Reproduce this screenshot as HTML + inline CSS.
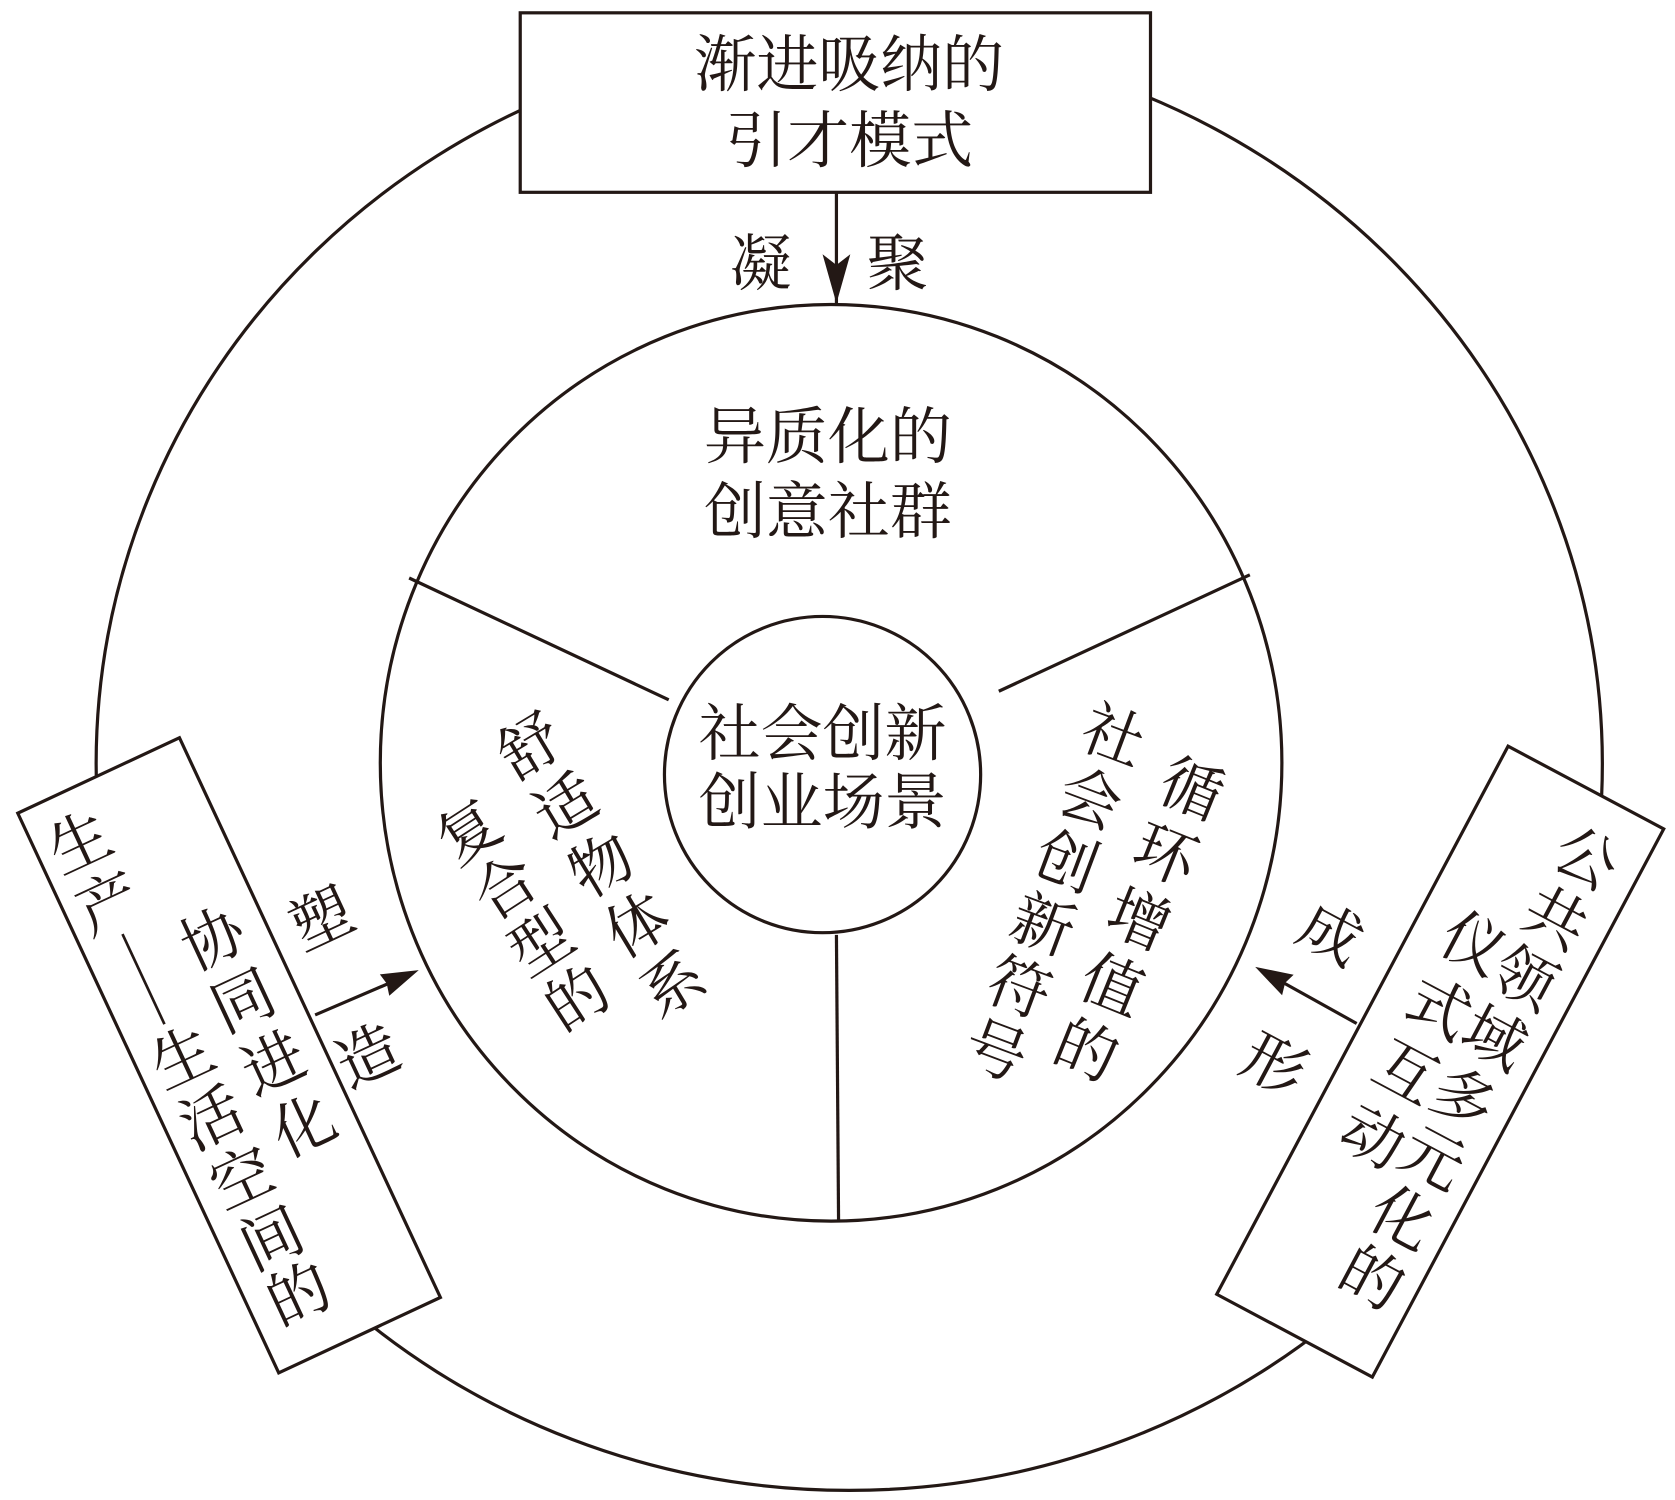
<!DOCTYPE html>
<html><head><meta charset="utf-8"><style>
html,body{margin:0;padding:0;background:#fff;}
svg{display:block;}
text{font-family:"Liberation Serif","Noto Serif CJK SC","Noto Sans CJK SC",serif;fill:#231815;font-size:58px;text-anchor:middle;dominant-baseline:central;}
</style></head><body>
<svg width="1675" height="1500" viewBox="0 0 1568 1404" preserveAspectRatio="none" xmlns="http://www.w3.org/2000/svg">
<g fill="none" stroke="#231815" stroke-width="3">
<ellipse cx="795" cy="715" rx="705" ry="680"/>
<ellipse cx="778" cy="714" rx="422" ry="429"/>
<circle cx="770" cy="725" r="148"/>
<line x1="383" y1="541" x2="626" y2="655"/>
<line x1="1170" y1="538" x2="935" y2="647"/>
<line x1="783" y1="875" x2="785" y2="1143"/>
</g>
<!-- top box -->
<rect x="487" y="12" width="590" height="168" fill="#fff" stroke="#231815" stroke-width="3"/>
<text x="795" y="62">渐进吸纳的</text>
<text x="795" y="133">引才模式</text>
<line x1="783" y1="180" x2="783" y2="284" stroke="#231815" stroke-width="3"/>
<path d="M770,238 L783,284 L796,238 L783,248 Z" fill="#231815"/>
<text x="712" y="248">凝</text>
<text x="840" y="248">聚</text>
<!-- inner texts -->
<text x="775" y="410">异质化的</text>
<text x="775" y="480">创意社群</text>
<text x="770" y="688">社会创新</text>
<text x="770" y="752">创业场景</text>
<g transform="translate(497,700) rotate(-31)">
<text x="0" y="0">舒</text><text x="0" y="65">适</text><text x="0" y="130">物</text><text x="0" y="195">体</text><text x="0" y="260">系</text>
</g>
<g transform="translate(440,780) rotate(-33)">
<text x="0" y="0">复</text><text x="0" y="62">合</text><text x="0" y="124">型</text><text x="0" y="186">的</text>
</g>
<g transform="translate(1115,740) rotate(22)">
<text x="0" y="0">循</text><text x="0" y="66">环</text><text x="0" y="132">增</text><text x="0" y="198">值</text><text x="0" y="264">的</text>
</g>
<g transform="translate(1042,690) rotate(20.5)">
<text x="0" y="0">社</text><text x="0" y="63">会</text><text x="0" y="126">创</text><text x="0" y="189">新</text><text x="0" y="252">符</text><text x="0" y="315">号</text>
</g>
<!-- left box -->
<g transform="translate(214,988) rotate(-25)">
<rect x="-83" y="-289" width="167" height="578" fill="#fff" stroke="#231815" stroke-width="3"/>
<text x="-42" y="-238">生</text><text x="-42" y="-175">产</text>
<line x1="-42" y1="-145" x2="-42" y2="-52" stroke="#231815" stroke-width="2.5"/>
<text x="-40" y="-15">生</text><text x="-39" y="48">活</text><text x="-37" y="111">空</text><text x="-36" y="174">间</text><text x="-35" y="232">的</text>
<text x="33" y="-104">协</text><text x="34" y="-39">同</text><text x="35" y="26">进</text><text x="36" y="91">化</text>
</g>
<line x1="295" y1="950" x2="365" y2="920" stroke="#231815" stroke-width="3"/>
<path d="M392,908 L355.6,912 L362,920.5 L364.4,932 Z" fill="#231815"/>
<text x="302" y="862" transform="rotate(-25 302 862)">塑</text>
<text x="345" y="990" transform="rotate(-25 345 990)">造</text>
<!-- right box -->
<g transform="translate(1348,993) rotate(28)">
<rect x="-82" y="-290" width="165" height="581" fill="#fff" stroke="#231815" stroke-width="3"/>
<text x="32" y="-230">公</text><text x="33" y="-167">共</text><text x="34" y="-104">领</text><text x="35" y="-41">域</text><text x="36" y="22">多</text><text x="37" y="85">元</text><text x="38" y="148">化</text><text x="39" y="211">的</text>
<text x="-24" y="-110">仪</text><text x="-24" y="-42">式</text><text x="-23" y="26">互</text><text x="-22" y="94">动</text>
</g>
<line x1="1270" y1="958" x2="1200" y2="919" stroke="#231815" stroke-width="3"/>
<path d="M1175,905 L1211,912.4 L1203,920 L1200.2,931.6 Z" fill="#231815"/>
<text x="1245" y="875" transform="rotate(28 1245 875)">成</text>
<text x="1192" y="998" transform="rotate(28 1192 998)">形</text>
</svg>
</body></html>
